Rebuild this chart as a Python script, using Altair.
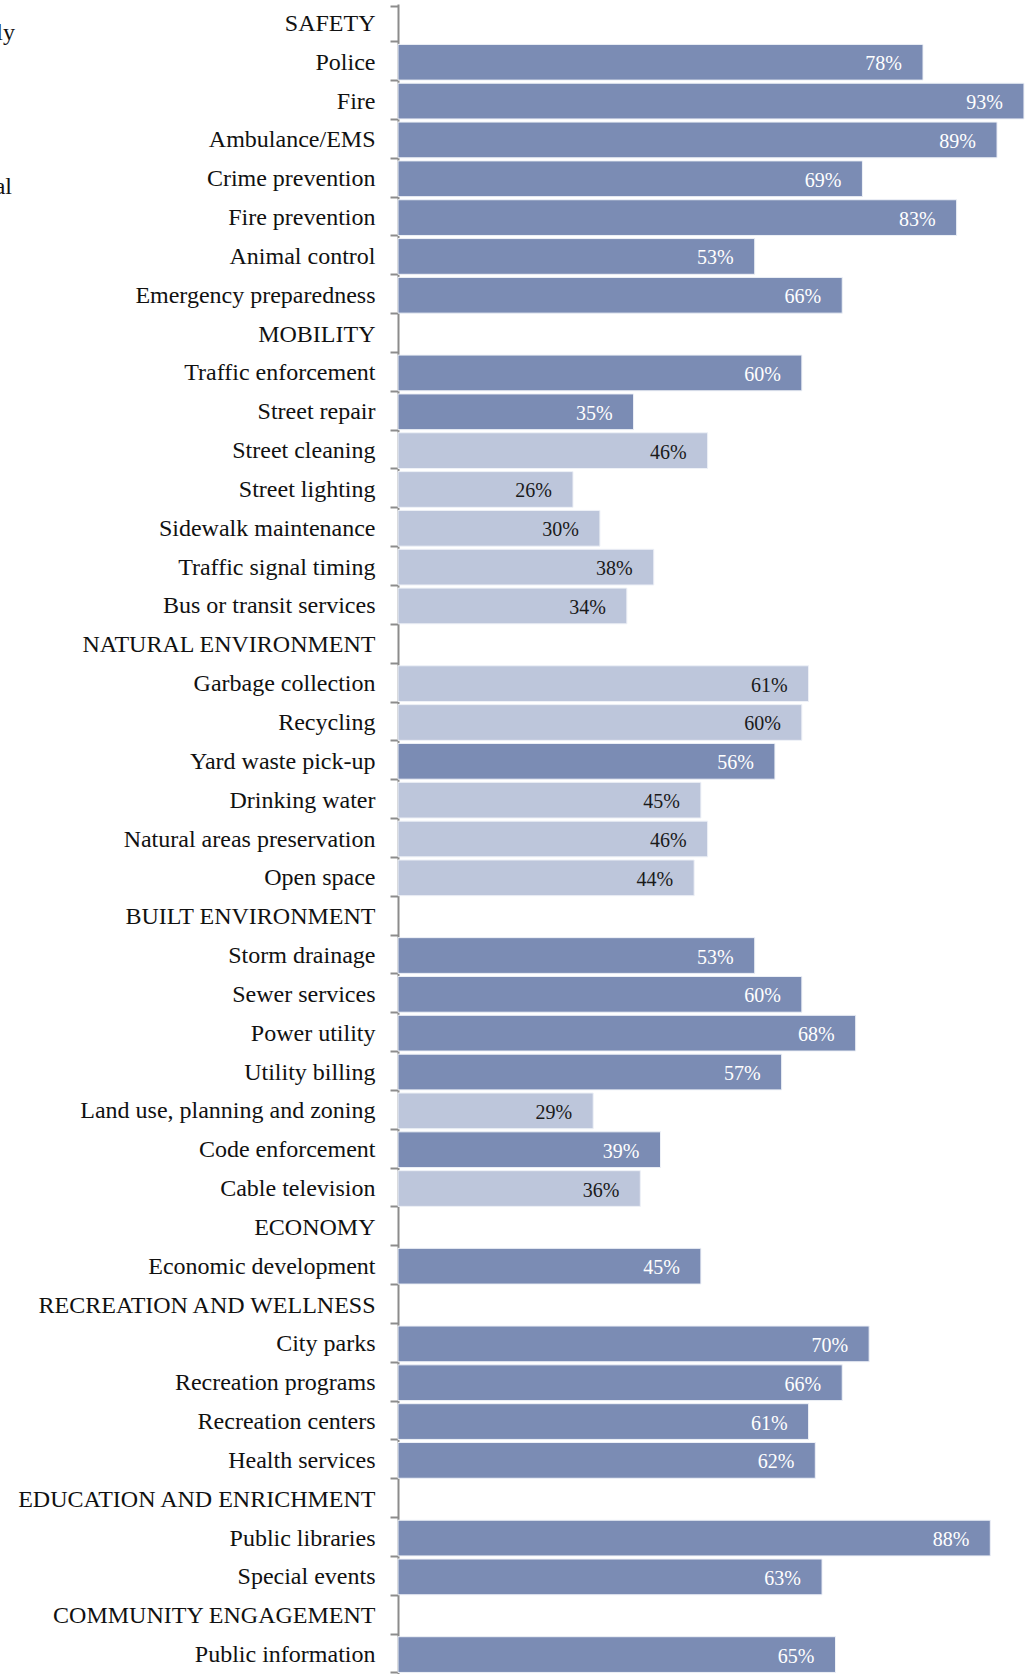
import altair as alt
import pandas as pd

# Row labels, top to bottom (section headers have no value)
labels = [
    "SAFETY", "Police", "Fire", "Ambulance/EMS", "Crime prevention", "Fire prevention",
    "Animal control", "Emergency preparedness",
    "MOBILITY", "Traffic enforcement", "Street repair", "Street cleaning", "Street lighting",
    "Sidewalk maintenance", "Traffic signal timing", "Bus or transit services",
    "NATURAL ENVIRONMENT", "Garbage collection", "Recycling", "Yard waste pick-up",
    "Drinking water", "Natural areas preservation", "Open space",
    "BUILT ENVIRONMENT", "Storm drainage", "Sewer services", "Power utility", "Utility billing",
    "Land use, planning and zoning", "Code enforcement", "Cable television",
    "ECONOMY", "Economic development",
    "RECREATION AND WELLNESS", "City parks", "Recreation programs", "Recreation centers",
    "Health services",
    "EDUCATION AND ENRICHMENT", "Public libraries", "Special events",
    "COMMUNITY ENGAGEMENT", "Public information",
]

values = [
    None, 78, 93, 89, 69, 83, 53, 66,
    None, 60, 35, 46, 26, 30, 38, 34,
    None, 61, 60, 56, 45, 46, 44,
    None, 53, 60, 68, 57, 29, 39, 36,
    None, 45,
    None, 70, 66, 61, 62,
    None, 88, 63,
    None, 65,
]

tones = [
    "", "dark", "dark", "dark", "dark", "dark", "dark", "dark",
    "", "dark", "dark", "light", "light", "light", "light", "light",
    "", "light", "light", "dark", "light", "light", "light",
    "", "dark", "dark", "dark", "dark", "light", "dark", "light",
    "", "dark",
    "", "dark", "dark", "dark", "dark",
    "", "dark", "dark",
    "", "dark",
]

fragments = ["ly", "al"]

df = pd.DataFrame({"label": labels, "value": values, "tone": tones})
df["text"] = [f"{int(v)}%" if v is not None and v == v else "" for v in values]

SERIF = "Liberation Serif"

y_enc = alt.Y(
    "label:N",
    sort=labels,
    scale=alt.Scale(domain=labels, paddingInner=0.08, paddingOuter=0.04),
    axis=alt.Axis(
        title=None,
        tickBand="extent",
        domainColor="#8c8c8c",
        domainWidth=2,
        tickColor="#8c8c8c",
        tickWidth=2,
        tickSize=8,
        labelPadding=15,
        labelFont=SERIF,
        labelFontSize=24,
        labelColor="#111111",
        labelLimit=0,
    ),
)
x_enc = alt.X("value:Q", scale=alt.Scale(domain=[0, 93.6], nice=False, zero=True), axis=None)

base = alt.Chart(df).transform_filter("isValid(datum.value)")

bars = base.mark_bar(stroke="#eef1f7", strokeWidth=1).encode(
    x=x_enc,
    y=y_enc,
    color=alt.Color(
        "tone:N",
        scale=alt.Scale(domain=["dark", "light"], range=["#7b8cb4", "#bdc6db"]),
        legend=None,
    ),
)

text = base.mark_text(
    align="right", baseline="middle", dx=-21, dy=2, font=SERIF, fontSize=20
).encode(
    x=x_enc,
    y=y_enc,
    text="text:N",
    color=alt.Color(
        "tone:N",
        scale=alt.Scale(domain=["dark", "light"], range=["#ffffff", "#1a1a1a"]),
        legend=None,
    ),
)

frag_df = pd.DataFrame({"frag": fragments})
frag1 = alt.Chart(frag_df).transform_filter("datum.frag == 'ly'").mark_text(
    align="right", baseline="alphabetic", font=SERIF, fontSize=24, color="#111111"
).encode(text="frag:N", x=alt.value(-383), y=alt.value(36))
frag2 = alt.Chart(frag_df).transform_filter("datum.frag == 'al'").mark_text(
    align="right", baseline="alphabetic", font=SERIF, fontSize=24, color="#111111"
).encode(text="frag:N", x=alt.value(-386), y=alt.value(190))

chart = (
    alt.layer(bars, text, frag1, frag2)
    .resolve_scale(color="independent")
    .properties(
        width=630,
        height=1670,
        padding={"left": 398, "top": 4, "right": 0, "bottom": 0},
        autosize=alt.AutoSizeParams(type="none"),
        background="white",
    )
    .configure_view(stroke=None)
)

chart.save("out.html", embed_options={"renderer": "svg", "actions": False})
